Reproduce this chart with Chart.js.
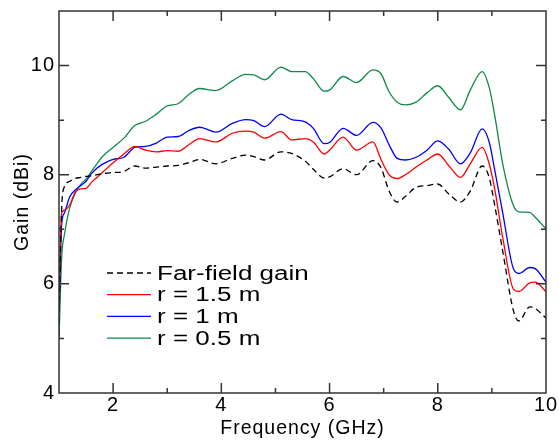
<!DOCTYPE html>
<html>
<head>
<meta charset="utf-8">
<script src="https://cdn.jsdelivr.net/npm/chart.js@4"></script>
<style>
  body { margin: 0; background: #fff; }
  canvas { display: block; }
</style>
</head>
<body>
<canvas id="gainChart" width="559" height="441"></canvas>
<script>
// frequency grid (GHz)
const freq = [1.0, 1.05, 1.1, 1.2, 1.3, 1.4, 1.5, 1.6, 1.7, 1.8,
  1.9, 2.0, 2.2, 2.4, 2.6, 2.8, 3.0, 3.2, 3.4, 3.6,
  3.9, 4.2, 4.45, 4.6, 4.8, 5.1, 5.3, 5.55, 5.7, 5.9,
  6.0, 6.25, 6.5, 6.8, 6.95, 7.1, 7.25, 7.4, 7.6, 7.8,
  8.0, 8.2, 8.42, 8.6, 8.82, 8.95, 9.05, 9.2, 9.4, 9.5,
  9.7, 9.8, 10.0];

const farField = [5.3, 7.4, 7.78, 7.88, 7.93, 7.95, 7.97, 7.98, 8.0, 8.02,
  8.03, 8.04, 8.06, 8.16, 8.12, 8.14, 8.16, 8.17, 8.22, 8.28,
  8.2, 8.3, 8.36, 8.33, 8.27, 8.42, 8.39, 8.25, 8.1, 7.94,
  7.96, 8.11, 8.0, 8.26, 8.13, 7.7, 7.5, 7.6, 7.77, 7.8,
  7.83, 7.65, 7.5, 7.7, 8.16, 7.95, 7.45, 6.6, 5.5, 5.32,
  5.58, 5.55, 5.37];

const r15 = [5.8, 7.3, 7.35, 7.45, 7.68, 7.74, 7.75, 7.86, 7.95, 8.04,
  8.13, 8.22, 8.38, 8.52, 8.45, 8.42, 8.44, 8.43, 8.55, 8.66,
  8.6, 8.76, 8.8, 8.78, 8.67, 8.79, 8.64, 8.66, 8.6, 8.38,
  8.45, 8.69, 8.45, 8.6, 8.28, 8.0, 7.93, 8.0, 8.14, 8.27,
  8.38, 8.17, 7.95, 8.2, 8.5, 8.2, 7.75, 6.85, 5.9, 5.86,
  6.02, 6.03, 5.86];

const r10 = [5.5, 7.1, 7.3, 7.6, 7.72, 7.8, 7.88, 8.02, 8.12, 8.19,
  8.24, 8.28, 8.32, 8.5, 8.52, 8.58, 8.69, 8.7, 8.81, 8.87,
  8.78, 8.94, 9.01, 8.99, 8.88, 9.11, 9.01, 8.97, 8.85, 8.57,
  8.59, 8.85, 8.72, 8.96, 8.86, 8.55, 8.3, 8.27, 8.32, 8.45,
  8.62, 8.47, 8.2, 8.4, 8.84, 8.6, 8.1, 7.3, 6.27, 6.19,
  6.3, 6.28, 6.03];

const r05 = [5.0, 6.5, 6.9, 7.4, 7.66, 7.82, 7.92, 8.06, 8.2, 8.33,
  8.42, 8.5, 8.67, 8.9, 8.98, 9.11, 9.26, 9.3, 9.47, 9.58,
  9.54, 9.72, 9.84, 9.83, 9.74, 9.97, 9.89, 9.89, 9.76, 9.53,
  9.55, 9.8, 9.69, 9.92, 9.85, 9.52, 9.33, 9.28, 9.33, 9.5,
  9.63, 9.42, 9.19, 9.55, 9.89, 9.6, 9.1, 8.2, 7.43, 7.32,
  7.31, 7.22, 7.01];

const seriesLabels = ['Far-field gain', 'r = 1.5 m', 'r = 1 m', 'r = 0.5 m'];
const seriesColors = ['#000000', '#ff0000', '#0000ff', '#0d8a48'];

const FONT = 'Liberation Sans, Arial, sans-serif';

const toPoints = vals => vals.map((v, i) => ({ x: freq[i], y: v }));

// the original lettering is set a bit wide
const wideText = {
    id: 'wideText',
    beforeDraw(chart) {
        chart.ctx.letterSpacing = '1px';
    }
};

// frame with inward ticks on all four sides + legend inside the plot
const frameAndLegend = {
    id: 'frameAndLegend',
    afterDatasetsDraw(chart) {
        const { ctx, chartArea: a, scales: { x, y } } = chart;
        ctx.save();
        ctx.strokeStyle = '#333';
        ctx.lineWidth = 1.5;
        ctx.strokeRect(a.left, a.top, a.right - a.left, a.bottom - a.top);

        ctx.beginPath();
        x.ticks.forEach(t => {
            if (t.value <= x.min || t.value >= x.max) return;
            const px = x.getPixelForValue(t.value);
            const len = t.value % 2 === 0 ? 10 : 5;
            ctx.moveTo(px, a.bottom); ctx.lineTo(px, a.bottom - len);
            ctx.moveTo(px, a.top); ctx.lineTo(px, a.top + len);
        });
        y.ticks.forEach(t => {
            if (t.value <= y.min || t.value >= y.max) return;
            const py = y.getPixelForValue(t.value);
            const len = t.value % 2 === 0 ? 10 : 5;
            ctx.moveTo(a.left, py); ctx.lineTo(a.left + len, py);
            ctx.moveTo(a.right, py); ctx.lineTo(a.right - len, py);
        });
        ctx.stroke();

        // legend, text stretched sideways like the original
        ctx.font = '20px ' + FONT;
        ctx.letterSpacing = '0px';
        ctx.textBaseline = 'middle';
        ctx.fillStyle = '#000';
        chart.data.datasets.forEach((ds, i) => {
            const ly = 273 + i * 21.7;
            ctx.beginPath();
            ctx.strokeStyle = ds.borderColor;
            ctx.lineWidth = ds.borderWidth;
            ctx.setLineDash(ds.borderDash || []);
            ctx.moveTo(107, ly);
            ctx.lineTo(151, ly);
            ctx.stroke();
            ctx.setLineDash([]);
            ctx.save();
            ctx.translate(157, ly + 1);
            ctx.scale(1.3, 1);
            ctx.fillText(ds.label, 0, 0);
            ctx.restore();
        });
        ctx.restore();
    }
};

const datasets = [farField, r15, r10, r05].map((vals, i) => ({
    label: seriesLabels[i],
    data: toPoints(vals),
    borderColor: seriesColors[i],
    borderWidth: 1.3,
    borderDash: i === 0 ? [6, 4] : [],
    pointRadius: 0,
    fill: false,
    cubicInterpolationMode: 'monotone',
}));

new Chart(document.getElementById('gainChart').getContext('2d'), {
    type: 'line',
    data: { datasets },
    options: {
        responsive: false,
        animation: false,
        devicePixelRatio: 1,
        layout: { padding: { top: 11, right: 13, left: 0, bottom: 0 } },
        scales: {
            x: {
                type: 'linear',
                min: 1,
                max: 10,
                afterFit: s => { s.height = 48; s.paddingRight = 0; s.paddingLeft = 0; },
                grid: { display: false, drawTicks: false },
                border: { display: false },
                ticks: {
                    stepSize: 1,
                    padding: 0,
                    color: '#000',
                    font: { family: FONT, size: 20 },
                    maxRotation: 0,
                    autoSkip: false,
                    callback: v => (v % 2 === 0 ? v : ''),
                },
                title: {
                    display: true,
                    text: 'Frequency (GHz)',
                    color: '#000',
                    font: { family: FONT, size: 19.5, lineHeight: 1.2 },
                    padding: { top: 0, bottom: 1 },
                },
            },
            y: {
                min: 4,
                max: 11,
                afterFit: s => { s.width = 59; s.paddingTop = 0; s.paddingBottom = 0; },
                grid: { display: false, drawTicks: false },
                border: { display: false },
                ticks: {
                    stepSize: 1,
                    padding: 4,
                    color: '#000',
                    font: { family: FONT, size: 20 },
                    autoSkip: false,
                    callback: v => (v % 2 === 0 ? v : ''),
                },
                title: {
                    display: true,
                    text: 'Gain (dBi)',
                    color: '#000',
                    font: { family: FONT, size: 19.5, lineHeight: 1.2 },
                    padding: { top: 11, bottom: 0 },
                },
            },
        },
        plugins: {
            legend: { display: false },
            tooltip: { enabled: false },
        },
    },
    plugins: [wideText, frameAndLegend],
});
</script>
</body>
</html>
